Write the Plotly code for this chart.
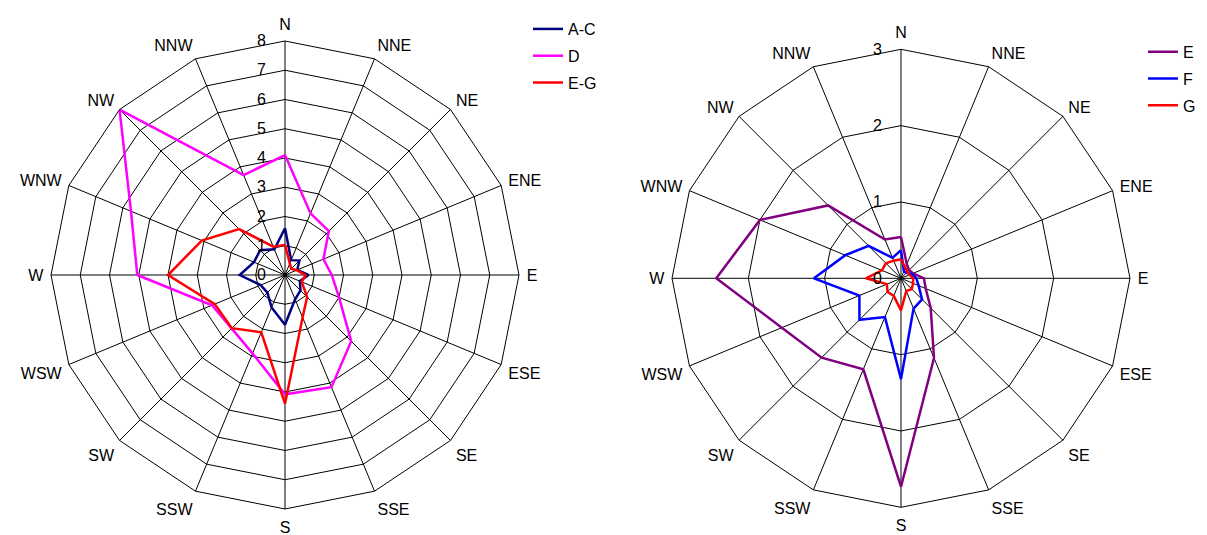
import plotly.graph_objects as go

directions = ["N", "NNE", "NE", "ENE", "E", "ESE", "SE", "SSE",
              "S", "SSW", "SW", "WSW", "W", "WNW", "NW", "NNW"]

# Left chart series
ac = [1.6, 0.55, 0.7, 0.45, 0.8, 0.55, 0.75, 0.9, 1.7, 1.2, 0.85, 0.9, 1.55, 1.15, 1.2, 0.95]
d = [4.1, 2.28, 2.12, 1.42, 1.6, 2.0, 3.2, 4.15, 4.08, 2.9, 2.58, 2.7, 5.05, 5.7, 8.0, 3.7]
eg = [1.03, 0.43, 0.3, 0.43, 0.7, 0.62, 1.07, 1.57, 4.4, 2.12, 2.57, 2.6, 4.0, 3.08, 2.22, 1.05]

# Right chart series
e = [0.54, 0.2, 0.15, 0.17, 0.3, 0.35, 0.55, 1.13, 2.73, 1.29, 1.47, 1.69, 2.42, 2.0, 1.35, 0.55]
f = [0.37, 0.1, 0.1, 0.15, 0.2, 0.25, 0.39, 0.43, 1.32, 0.55, 0.77, 0.59, 1.14, 0.79, 0.6, 0.29]
g = [0.25, 0.15, 0.12, 0.12, 0.16, 0.17, 0.2, 0.18, 0.42, 0.25, 0.25, 0.2, 0.46, 0.27, 0.28, 0.25]

left_ticks = [0, 1, 2, 3, 4, 5, 6, 7, 8]
right_ticks = [0, 1, 2, 3]

FONT = "Liberation Sans, Arial, sans-serif"


def closed(vals):
    return list(vals) + [vals[0]]


theta = closed(directions)

fig = go.Figure()

left_series = [("A-C", ac, "#000080"), ("D", d, "#FF00FF"), ("E-G", eg, "#FF0000")]
right_series = [("E", e, "#800080"), ("F", f, "#0000FF"), ("G", g, "#FF0000")]

for name, vals, col in left_series:
    fig.add_trace(go.Scatterpolar(r=closed(vals), theta=theta, mode="lines", name=name,
                                  line=dict(color=col, width=2.5), subplot="polar",
                                  legend="legend", legendgroup=name))
for name, vals, col in right_series:
    fig.add_trace(go.Scatterpolar(r=closed(vals), theta=theta, mode="lines", name=name,
                                  line=dict(color=col, width=2.5), subplot="polar2",
                                  legend="legend2", legendgroup="r" + name))


def polar_cfg(domx, domy, rmax, ticks):
    return dict(
        domain=dict(x=domx, y=domy),
        gridshape="linear",
        bgcolor="white",
        angularaxis=dict(
            type="category", categoryarray=directions, direction="clockwise", rotation=90,
            showline=True, linecolor="black", linewidth=1,
            showgrid=True, gridcolor="black", gridwidth=1,
            ticks="outside", ticklen=4, tickcolor="rgba(0,0,0,0)",
            tickfont=dict(family=FONT, size=16, color="black"),
        ),
        radialaxis=dict(
            range=[0, rmax], tickvals=ticks, ticktext=[str(t) for t in ticks],
            angle=90, tickangle=90, side="counterclockwise",
            showline=False, showgrid=True, gridcolor="black", gridwidth=1,
            ticks="outside", ticklen=13, tickcolor="rgba(0,0,0,0)",
            tickfont=dict(family=FONT, size=16, color="black"),
        ),
    )


fig.update_layout(
    width=1207, height=535,
    margin=dict(l=0, r=0, t=0, b=0, autoexpand=False),
    paper_bgcolor="white", plot_bgcolor="white",
    font=dict(family=FONT, size=16, color="black"),
    polar=polar_cfg([0.03563, 0.42336], [0.06355, 0.93832], 8, left_ticks),
    polar2=polar_cfg([0.5501, 0.9296], [0.06673, 0.92280], 3, right_ticks),
    legend=dict(x=0.4308, y=0.9925, xanchor="left", yanchor="top",
                font=dict(family=FONT, size=16), bgcolor="rgba(0,0,0,0)",
                tracegroupgap=3),
    legend2=dict(x=0.9403, y=0.950, xanchor="left", yanchor="top",
                 font=dict(family=FONT, size=16), bgcolor="rgba(0,0,0,0)",
                 tracegroupgap=3),
    showlegend=True,
)

fig.write_html("out.html")
